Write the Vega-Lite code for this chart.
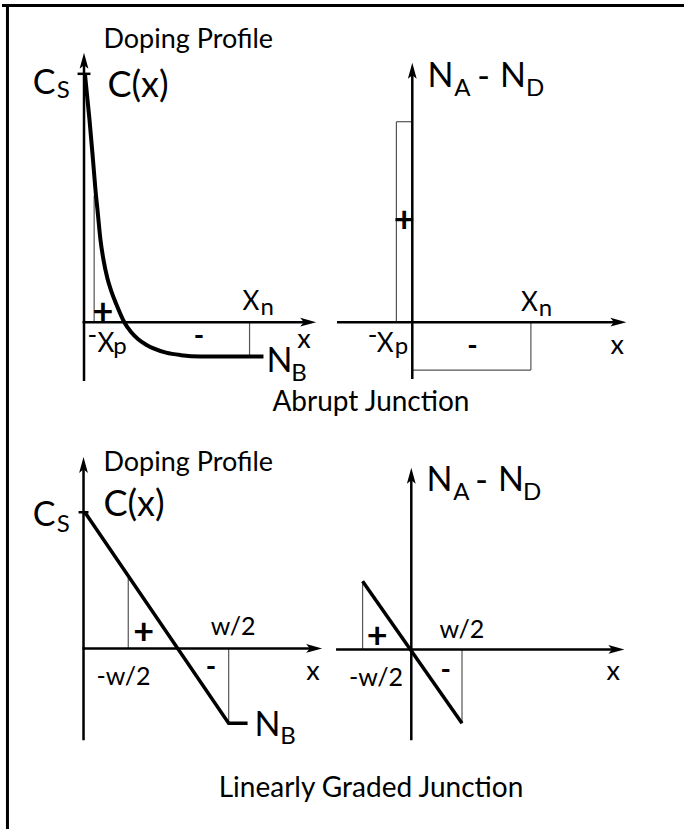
{
  "$schema": "https://vega.github.io/schema/vega-lite/v6.json",
  "width": 686,
  "height": 831,
  "autosize": {"type": "fit", "contains": "padding"},
  "padding": 0,
  "background": "white",
  "config": {"view": {"stroke": null}},
  "datasets": {
    "frame": [
      {"x": 0, "y": 5.5, "x2": 686, "y2": 5.5},
      {"x": 5.5, "y": 4, "x2": 5.5, "y2": 831}
    ],
    "axes": [
      {"panel": "abrupt-profile", "x": 82.5, "y": 62, "x2": 82.5, "y2": 382},
      {"panel": "abrupt-profile", "x": 81, "y": 323, "x2": 308, "y2": 323},
      {"panel": "abrupt-profile", "x": 76, "y": 74, "x2": 89, "y2": 74},
      {"panel": "abrupt-net", "x": 412.7, "y": 70, "x2": 412.7, "y2": 380},
      {"panel": "abrupt-net", "x": 337, "y": 323, "x2": 621, "y2": 323},
      {"panel": "graded-profile", "x": 82, "y": 466, "x2": 82, "y2": 742},
      {"panel": "graded-profile", "x": 81, "y": 650, "x2": 315, "y2": 650},
      {"panel": "graded-profile", "x": 77, "y": 513.5, "x2": 87, "y2": 513.5},
      {"panel": "graded-net", "x": 411.7, "y": 478, "x2": 411.7, "y2": 742},
      {"panel": "graded-net", "x": 336, "y": 651, "x2": 619, "y2": 651}
    ],
    "upArrows": [
      {"x": 82.5, "y": 61},
      {"x": 412.7, "y": 71},
      {"x": 82, "y": 466},
      {"x": 411.7, "y": 477}
    ],
    "rightArrows": [
      {"x": 308, "y": 323},
      {"x": 620, "y": 323},
      {"x": 314, "y": 650},
      {"x": 618, "y": 651}
    ],
    "guides": [
      {"x": 92.7, "y": 196, "x2": 92.7, "y2": 323},
      {"x": 249, "y": 323, "x2": 249, "y2": 357},
      {"x": 396.7, "y": 122, "x2": 396.7, "y2": 323},
      {"x": 396.7, "y": 122, "x2": 412.7, "y2": 122},
      {"x": 412.7, "y": 371, "x2": 532, "y2": 371},
      {"x": 532, "y": 323, "x2": 532, "y2": 371},
      {"x": 127, "y": 579, "x2": 127, "y2": 650},
      {"x": 228, "y": 650, "x2": 228, "y2": 725},
      {"x": 362.7, "y": 582.7, "x2": 362.7, "y2": 651},
      {"x": 462.7, "y": 651, "x2": 462.7, "y2": 725}
    ],
    "diffused": [
      {"i": 0, "x": 83.5, "y": 75},
      {"i": 1, "x": 85.5, "y": 95},
      {"i": 2, "x": 88, "y": 120},
      {"i": 3, "x": 91.5, "y": 160},
      {"i": 4, "x": 94, "y": 190},
      {"i": 5, "x": 96.5, "y": 215},
      {"i": 6, "x": 99, "y": 240},
      {"i": 7, "x": 102, "y": 260},
      {"i": 8, "x": 106, "y": 279},
      {"i": 9, "x": 110, "y": 292},
      {"i": 10, "x": 115, "y": 305},
      {"i": 11, "x": 123, "y": 323},
      {"i": 12, "x": 130, "y": 333},
      {"i": 13, "x": 137, "y": 340},
      {"i": 14, "x": 145, "y": 345.5},
      {"i": 15, "x": 153, "y": 349.5},
      {"i": 16, "x": 165, "y": 353.5},
      {"i": 17, "x": 180, "y": 356},
      {"i": 18, "x": 200, "y": 357.3},
      {"i": 19, "x": 263, "y": 357.3}
    ],
    "graded": [
      {"curve": "profile", "i": 0, "x": 83, "y": 513},
      {"curve": "profile", "i": 1, "x": 228, "y": 725},
      {"curve": "profile", "i": 2, "x": 247, "y": 725},
      {"curve": "net", "i": 0, "x": 362.7, "y": 582.7},
      {"curve": "net", "i": 1, "x": 462.7, "y": 725}
    ],
    "labels": [
      {"text": "Doping Profile", "role": "heading", "x": 102, "y": 48},
      {"text": "C(x)", "role": "big", "x": 106, "y": 97},
      {"text": "C", "role": "symbol", "x": 31, "y": 94},
      {"text": "S", "role": "symsub", "x": 55, "y": 98},
      {"text": "-", "role": "mark", "x": 86, "y": 345},
      {"text": "X", "role": "mark", "x": 96, "y": 353},
      {"text": "p", "role": "marksub", "x": 112, "y": 355},
      {"text": "X", "role": "mark", "x": 242, "y": 311},
      {"text": "n", "role": "marksub", "x": 260, "y": 316},
      {"text": "x", "role": "axis", "x": 297, "y": 349},
      {"text": "N", "role": "symbol", "x": 266, "y": 373},
      {"text": "B", "role": "symsub", "x": 291, "y": 382},

      {"text": "N", "role": "symbol", "x": 428, "y": 87},
      {"text": "A", "role": "symsub", "x": 455, "y": 96},
      {"text": "-", "role": "symbol", "x": 478, "y": 88},
      {"text": "N", "role": "symbol", "x": 501, "y": 87},
      {"text": "D", "role": "symsub", "x": 527, "y": 96},
      {"text": "X", "role": "mark", "x": 522, "y": 312},
      {"text": "n", "role": "marksub", "x": 540, "y": 317},
      {"text": "-", "role": "mark", "x": 368, "y": 345},
      {"text": "X", "role": "mark", "x": 377, "y": 353},
      {"text": "p", "role": "marksub", "x": 395, "y": 355},
      {"text": "x", "role": "axis", "x": 612, "y": 355},
      {"text": "Abrupt Junction", "role": "caption", "x": 272, "y": 412},

      {"text": "Doping Profile", "role": "heading", "x": 102, "y": 472},
      {"text": "C(x)", "role": "big", "x": 102, "y": 517},
      {"text": "C", "role": "symbol", "x": 31, "y": 527},
      {"text": "S", "role": "symsub", "x": 55, "y": 533},
      {"text": "w/2", "role": "w", "x": 210, "y": 637},
      {"text": "-w/2", "role": "w", "x": 95, "y": 687},
      {"text": "x", "role": "axis", "x": 306, "y": 682},
      {"text": "N", "role": "symbol", "x": 254, "y": 738},
      {"text": "B", "role": "symsub", "x": 280, "y": 746},
      {"text": "Linearly Graded Junction", "role": "caption", "x": 218, "y": 799},

      {"text": "N", "role": "symbol", "x": 427, "y": 492},
      {"text": "A", "role": "symsub", "x": 454, "y": 501},
      {"text": "-", "role": "symbol", "x": 476, "y": 493},
      {"text": "N", "role": "symbol", "x": 499, "y": 492},
      {"text": "D", "role": "symsub", "x": 524, "y": 501},
      {"text": "w/2", "role": "w", "x": 440, "y": 640},
      {"text": "-w/2", "role": "w", "x": 349, "y": 688},
      {"text": "x", "role": "axis", "x": 608, "y": 682}
    ],
    "signs": [
      {"text": "+", "role": "plus", "x": 91, "y": 325},
      {"text": "-", "role": "minus", "x": 193, "y": 346},
      {"text": "+", "role": "plus", "x": 394, "y": 233},
      {"text": "-", "role": "minus", "x": 468, "y": 356},
      {"text": "+", "role": "plus", "x": 132, "y": 646},
      {"text": "-", "role": "minus", "x": 205, "y": 678},
      {"text": "+", "role": "plus", "x": 367, "y": 650},
      {"text": "-", "role": "minus", "x": 441, "y": 681}
    ]
  },
  "encoding": {
    "x": {"field": "x", "type": "quantitative", "axis": null, "scale": {"domain": [0, 686], "nice": false, "zero": false}},
    "y": {"field": "y", "type": "quantitative", "axis": null, "scale": {"domain": [0, 831], "nice": false, "zero": false, "reverse": true}}
  },
  "resolve": {"scale": {"size": "independent"}, "legend": {"size": "independent"}},
  "layer": [
    {
      "data": {"name": "frame"},
      "mark": {"type": "rule", "color": "black", "strokeWidth": 3},
      "encoding": {"x2": {"field": "x2"}, "y2": {"field": "y2"}}
    },
    {
      "data": {"name": "guides"},
      "mark": {"type": "rule", "color": "#555555", "strokeWidth": 1.2},
      "encoding": {"x2": {"field": "x2"}, "y2": {"field": "y2"}}
    },
    {
      "data": {"name": "axes"},
      "mark": {"type": "rule", "color": "black", "strokeWidth": 2.5},
      "encoding": {"x2": {"field": "x2"}, "y2": {"field": "y2"}}
    },
    {
      "data": {"name": "upArrows"},
      "mark": {"type": "point", "shape": "M0,-1L0.55,1L0,0.55L-0.55,1Z", "size": 256, "filled": true, "color": "black", "opacity": 1}
    },
    {
      "data": {"name": "rightArrows"},
      "mark": {"type": "point", "shape": "M1,0L-1,0.55L-0.55,0L-1,-0.55Z", "size": 256, "filled": true, "color": "black", "opacity": 1}
    },
    {
      "data": {"name": "diffused"},
      "mark": {"type": "line", "color": "black", "strokeWidth": 4, "interpolate": "monotone"},
      "encoding": {"order": {"field": "i", "type": "quantitative"}}
    },
    {
      "data": {"name": "graded"},
      "mark": {"type": "line", "color": "black", "strokeWidth": 3.5, "strokeJoin": "miter"},
      "encoding": {
        "detail": {"field": "curve", "type": "nominal"},
        "order": {"field": "i", "type": "quantitative"}
      }
    },
    {
      "data": {"name": "labels"},
      "mark": {"type": "text", "font": "Lato", "color": "black", "align": "left", "baseline": "alphabetic"},
      "encoding": {
        "text": {"field": "text", "type": "nominal"},
        "size": {
          "field": "role",
          "type": "nominal",
          "legend": null,
          "scale": {
            "type": "ordinal",
            "domain": ["heading", "caption", "big", "symbol", "symsub", "mark", "marksub", "axis", "w"],
            "range": [27, 28, 36, 34, 24, 26, 24, 27, 25]
          }
        }
      }
    },
    {
      "data": {"name": "signs"},
      "transform": [{"filter": "datum.role === 'plus'"}],
      "mark": {"type": "text", "font": "Lato", "fontWeight": "bold", "fontSize": 36, "color": "black", "align": "left", "baseline": "alphabetic"},
      "encoding": {"text": {"field": "text", "type": "nominal"}}
    },
    {
      "data": {"name": "signs"},
      "transform": [{"filter": "datum.role === 'minus'"}],
      "mark": {"type": "text", "font": "Lato", "fontWeight": "bold", "fontSize": 28, "color": "black", "align": "left", "baseline": "alphabetic"},
      "encoding": {"text": {"field": "text", "type": "nominal"}}
    }
  ]
}
